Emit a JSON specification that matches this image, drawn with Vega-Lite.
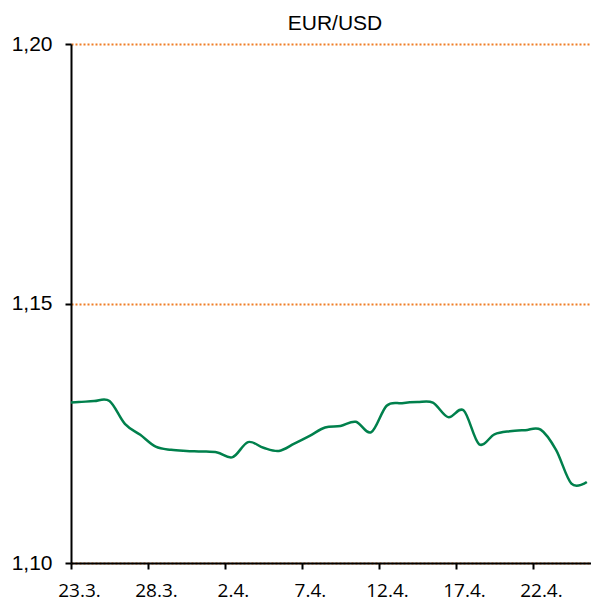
{
  "$schema": "https://vega.github.io/schema/vega-lite/v6.json",
  "width": 520,
  "height": 519,
  "autosize": "none",
  "padding": {"left": 71, "top": 44, "right": 0, "bottom": 39},
  "background": "white",
  "title": {
    "text": "EUR/USD",
    "font": "Liberation Sans",
    "fontSize": 21,
    "fontWeight": "normal",
    "color": "black",
    "anchor": "middle",
    "dx": 4,
    "offset": -1
  },
  "data": {
    "values": [
      {"date": "2019-03-22T12:00:00Z", "rate": 1.1309},
      {"date": "2019-03-23T12:00:00Z", "rate": 1.1310},
      {"date": "2019-03-24T12:00:00Z", "rate": 1.1312},
      {"date": "2019-03-25T12:00:00Z", "rate": 1.1312},
      {"date": "2019-03-26T12:00:00Z", "rate": 1.1268},
      {"date": "2019-03-27T12:00:00Z", "rate": 1.1247},
      {"date": "2019-03-28T12:00:00Z", "rate": 1.1224},
      {"date": "2019-03-29T12:00:00Z", "rate": 1.1218},
      {"date": "2019-03-30T12:00:00Z", "rate": 1.1216},
      {"date": "2019-03-31T12:00:00Z", "rate": 1.1215},
      {"date": "2019-04-01T12:00:00Z", "rate": 1.1213},
      {"date": "2019-04-02T12:00:00Z", "rate": 1.1204},
      {"date": "2019-04-03T12:00:00Z", "rate": 1.1233},
      {"date": "2019-04-04T12:00:00Z", "rate": 1.1222},
      {"date": "2019-04-05T12:00:00Z", "rate": 1.1216},
      {"date": "2019-04-06T12:00:00Z", "rate": 1.1230},
      {"date": "2019-04-07T12:00:00Z", "rate": 1.1245},
      {"date": "2019-04-08T12:00:00Z", "rate": 1.1261},
      {"date": "2019-04-09T12:00:00Z", "rate": 1.1264},
      {"date": "2019-04-10T12:00:00Z", "rate": 1.1272},
      {"date": "2019-04-11T12:00:00Z", "rate": 1.1252},
      {"date": "2019-04-12T12:00:00Z", "rate": 1.1303},
      {"date": "2019-04-13T12:00:00Z", "rate": 1.1308},
      {"date": "2019-04-14T12:00:00Z", "rate": 1.1310},
      {"date": "2019-04-15T12:00:00Z", "rate": 1.1309},
      {"date": "2019-04-16T12:00:00Z", "rate": 1.1281},
      {"date": "2019-04-17T12:00:00Z", "rate": 1.1294},
      {"date": "2019-04-18T12:00:00Z", "rate": 1.1229},
      {"date": "2019-04-19T12:00:00Z", "rate": 1.1248},
      {"date": "2019-04-20T12:00:00Z", "rate": 1.1254},
      {"date": "2019-04-21T12:00:00Z", "rate": 1.1256},
      {"date": "2019-04-22T12:00:00Z", "rate": 1.1257},
      {"date": "2019-04-23T12:00:00Z", "rate": 1.1218},
      {"date": "2019-04-24T12:00:00Z", "rate": 1.1153},
      {"date": "2019-04-25T12:00:00Z", "rate": 1.1156}
    ]
  },
  "mark": {
    "type": "line",
    "interpolate": "cardinal",
    "color": "#00804C",
    "strokeWidth": 2.5,
    "clip": true
  },
  "encoding": {
    "x": {
      "field": "date",
      "type": "temporal",
      "scale": {
        "type": "utc",
        "domain": [
          {"year": 2019, "month": 3, "date": 23, "utc": true},
          {"year": 2019, "month": 4, "date": 25, "hours": 18, "minutes": 30, "utc": true}
        ]
      },
      "axis": {
        "title": null,
        "values": [
          {"year": 2019, "month": 3, "date": 23, "utc": true},
          {"year": 2019, "month": 3, "date": 28, "utc": true},
          {"year": 2019, "month": 4, "date": 2, "utc": true},
          {"year": 2019, "month": 4, "date": 7, "utc": true},
          {"year": 2019, "month": 4, "date": 12, "utc": true},
          {"year": 2019, "month": 4, "date": 17, "utc": true},
          {"year": 2019, "month": 4, "date": 22, "utc": true}
        ],
        "labelExpr": "utcFormat(datum.value, '%-d.%-m.')",
        "grid": false,
        "domainColor": "black",
        "domainWidth": 2,
        "tickColor": "black",
        "tickWidth": 2,
        "tickSize": 6,
        "labelFont": "Open Sans",
        "labelFontSize": 19,
        "labelColor": "black",
        "labelPadding": 12,
        "labelOffset": 8,
        "labelFlush": false,
        "labelOverlap": false
      }
    },
    "y": {
      "field": "rate",
      "type": "quantitative",
      "scale": {"domain": [1.10, 1.20], "zero": false, "nice": false},
      "axis": {
        "title": null,
        "values": [1.10, 1.15, 1.20],
        "labelExpr": "replace(format(datum.value, '.2f'), '.', ',')",
        "grid": true,
        "gridColor": "#F07E26",
        "gridDash": [2, 2],
        "gridWidth": 2,
        "domainColor": "black",
        "domainWidth": 2,
        "tickColor": "black",
        "tickWidth": 2,
        "tickSize": 6,
        "labelFont": "Liberation Sans",
        "labelFontSize": 21,
        "labelColor": "black",
        "labelPadding": 13,
        "labelFlush": false
      }
    }
  },
  "config": {
    "view": {"stroke": null}
  }
}
